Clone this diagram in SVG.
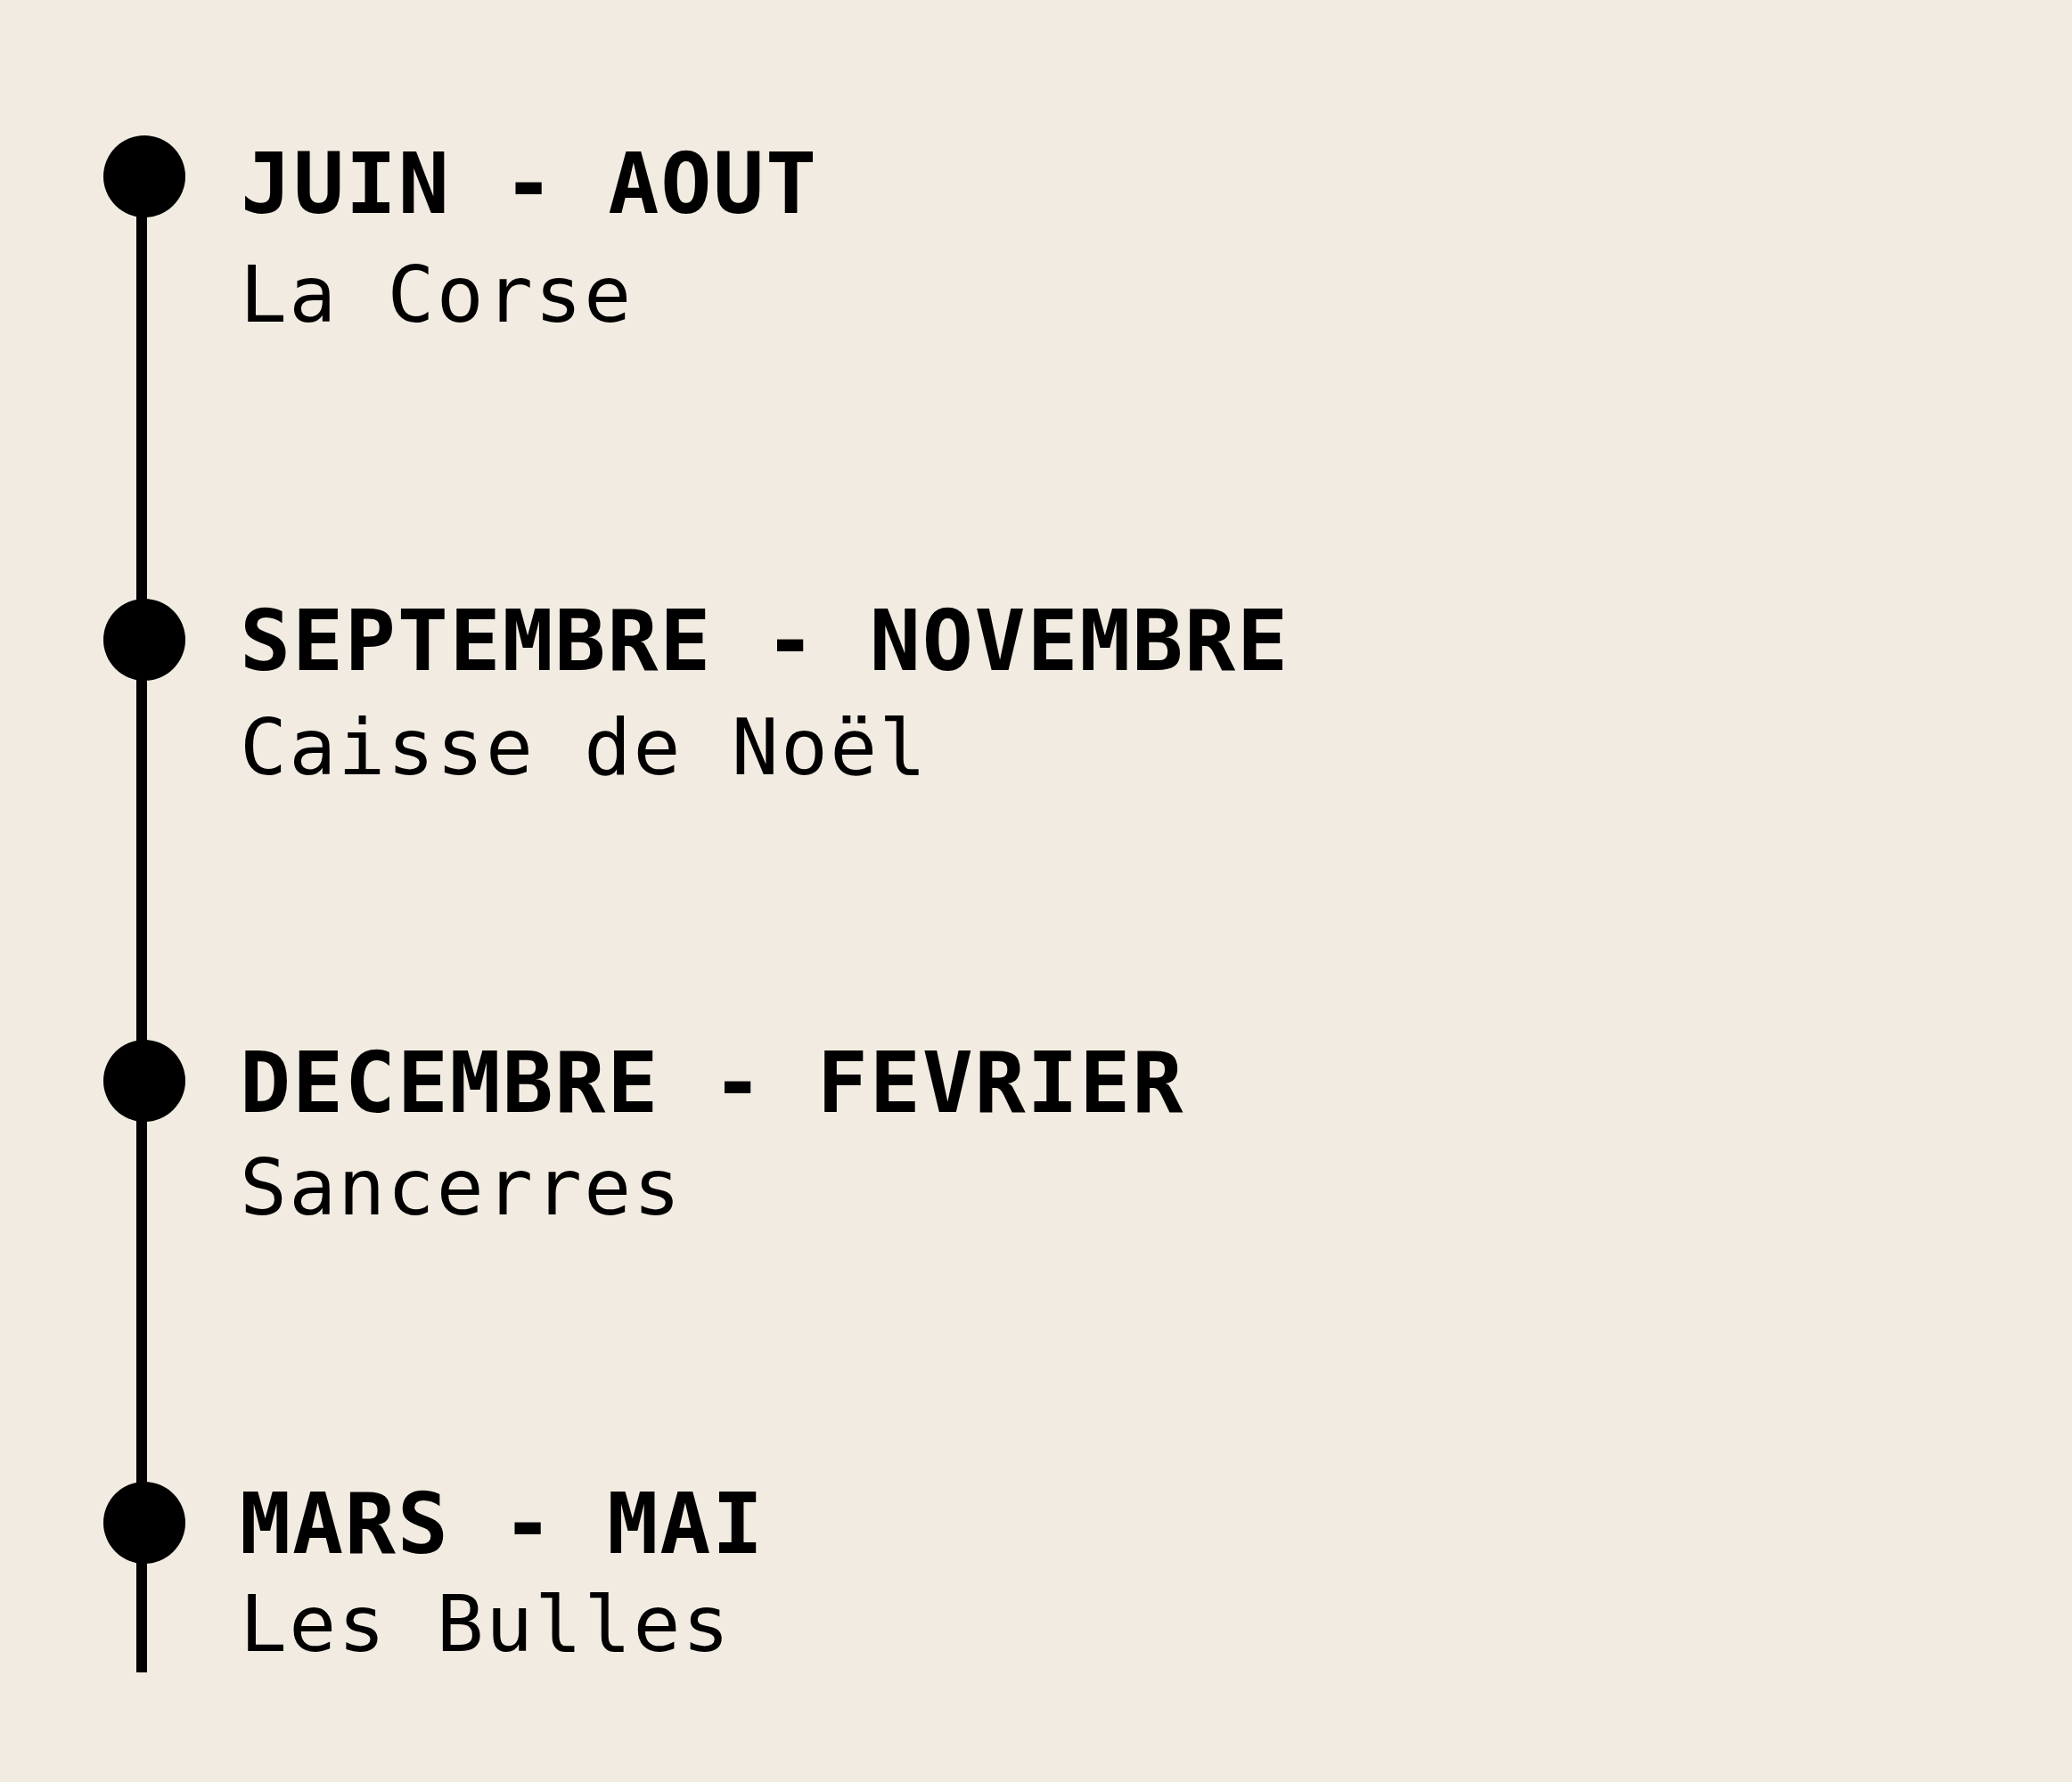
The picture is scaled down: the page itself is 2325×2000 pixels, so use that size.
<svg xmlns="http://www.w3.org/2000/svg" width="2325" height="2000" viewBox="0 0 2325 2000">
<style>
.bg{fill:#F2EBE1}
.dot{fill:#000}
.line{stroke:#000;stroke-width:12;fill:none}
.h{font-family:"DejaVu Sans Mono","Liberation Mono",monospace;font-weight:bold;font-size:95px;letter-spacing:1.7px;fill:#000}
.b{font-family:"DejaVu Sans Mono","Liberation Mono",monospace;font-size:88px;letter-spacing:2.2px;fill:#000}
</style>
<rect class="bg" x="0" y="0" width="2325" height="2000"/>
<g id="connectors">
<line class="line" x1="159" y1="198" x2="159" y2="1877"/>
</g>
<g id="n1">
<circle class="dot" cx="162" cy="198" r="46"/>
<text class="h" x="270" y="239">JUIN - AOUT</text>
<text class="b" x="269" y="361">La Corse</text>
</g>
<g id="n2">
<circle class="dot" cx="162" cy="718" r="46"/>
<text class="h" x="269" y="752">SEPTEMBRE - NOVEMBRE</text>
<text class="b" x="269" y="869">Caisse de Noël</text>
</g>
<g id="n3">
<circle class="dot" cx="162" cy="1213" r="46"/>
<text class="h" x="269" y="1248">DECEMBRE - FEVRIER</text>
<text class="b" x="269" y="1363">Sancerres</text>
</g>
<g id="n4">
<circle class="dot" cx="162" cy="1709" r="46"/>
<text class="h" x="269" y="1743">MARS - MAI</text>
<text class="b" x="269" y="1853">Les Bulles</text>
</g>
</svg>
